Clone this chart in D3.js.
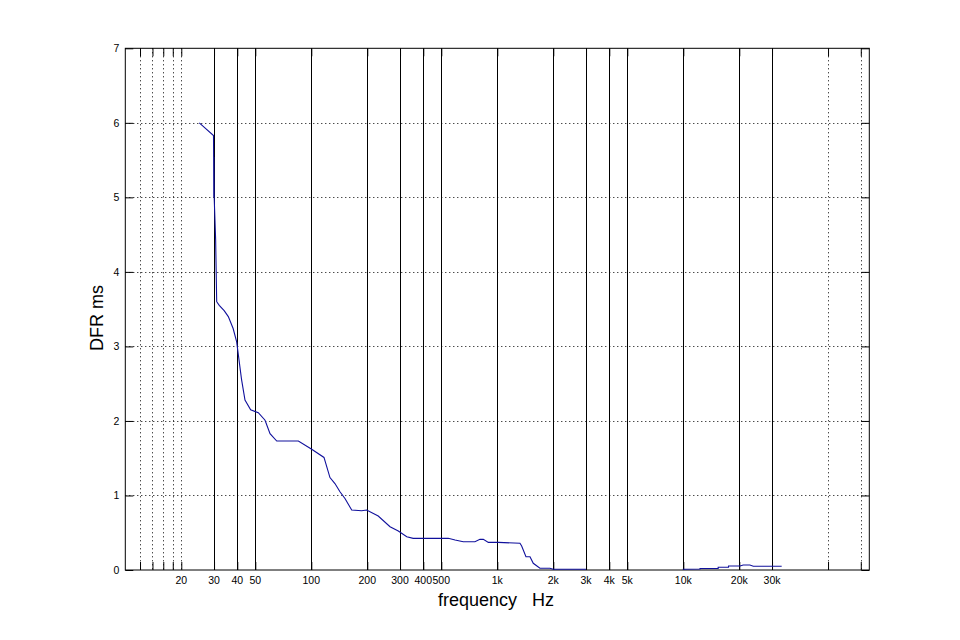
<!DOCTYPE html>
<html>
<head>
<meta charset="utf-8">
<script src="https://cdn.jsdelivr.net/npm/d3@7"></script>
<style>
  html, body { margin: 0; padding: 0; background: #fff; }
  svg { display: block; }
  text { font-family: "Liberation Sans", Arial, Helvetica, sans-serif; fill: #000; }
</style>
</head>
<body>
<svg id="chart" width="960" height="640"></svg>
<script>
// ---- data ----
const freqLow = [25, 29.8, 29.85, 29.9, 29.95, 30.05, 30.6, 31.0, 32.0, 34.0, 35.8, 38.0, 39.7, 42.2, 44.0, 47.2, 51.9, 56.4, 60.0, 65.2, 85.2, 100.5, 117, 126, 134, 142.6, 151.7, 164.9, 186.5, 198.4, 229, 265, 293.6, 326, 353, 434.5, 545, 593, 656, 758, 807, 841, 895, 1012, 1324, 1352, 1426, 1499, 1561, 1695, 1918, 2000, 3000];
const dfrLow  = [6.0, 5.83, 5.54, 5.0, 5.54, 5.0, 4.43, 3.6, 3.55, 3.48, 3.40, 3.24, 3.06, 2.55, 2.28, 2.15, 2.11, 2.01, 1.83, 1.73, 1.73, 1.62, 1.51, 1.24, 1.16, 1.05, 0.96, 0.805, 0.795, 0.805, 0.724, 0.581, 0.523, 0.447, 0.425, 0.425, 0.425, 0.402, 0.38, 0.38, 0.411, 0.411, 0.371, 0.371, 0.358, 0.322, 0.178, 0.178, 0.09, 0.023, 0.023, 0.01, 0.01];
const freqHigh = [9930, 12300, 12300, 15400, 15400, 17500, 17500, 20200, 21000, 22800, 23800, 33800];
const dfrHigh  = [0.01, 0.013, 0.02, 0.02, 0.036, 0.036, 0.054, 0.054, 0.067, 0.067, 0.05, 0.05];

const xTickValues = [20, 30, 40, 50, 100, 200, 300, 400, 500, 1000, 2000, 3000, 4000, 5000, 10000, 20000, 30000];
const xTickLabels = ["20", "30", "40", "50", "100", "200", "300", "400", "500", "1k", "2k", "3k", "4k", "5k", "10k", "20k", "30k"];
const dottedFreqs = [12, 14, 16, 18, 20, 60000, 90000];
const solidFreqs  = [30, 40, 50, 100, 200, 300, 400, 500, 1000, 2000, 3000, 4000, 5000, 10000, 20000, 30000];
const yTickValues = [0, 1, 2, 3, 4, 5, 6, 7];

const xLabel = "frequency\u00a0\u00a0\u00a0Hz";
const yLabel = "DFR ms";

// ---- layout ----
const pL = 125.3, pR = 869.3, pT = 48.3, pB = 570;
const svg = d3.select("#chart");

const x = d3.scaleLog().domain([10, 100000]).range([pL, pR]);
const y = d3.scaleLinear().domain([0, 7]).range([pB, pT]);

const g = svg.append("g");

// dotted horizontal grid
g.append("g").selectAll("line").data(yTickValues.filter(v => v > 0 && v < 7)).join("line")
  .attr("x1", pL).attr("x2", pR)
  .attr("y1", d => Math.round(y(d)) + 0.5).attr("y2", d => Math.round(y(d)) + 0.5)
  .attr("stroke", "#000").attr("stroke-width", 1).attr("stroke-dasharray", "1,3");

// dotted vertical grid
g.append("g").selectAll("line").data(dottedFreqs).join("line")
  .attr("x1", d => Math.round(x(d)) + 0.5).attr("x2", d => Math.round(x(d)) + 0.5)
  .attr("y1", pT).attr("y2", pB)
  .attr("stroke", "#000").attr("stroke-width", 1).attr("stroke-dasharray", "1,3");

// solid vertical lines
g.append("g").selectAll("line").data(solidFreqs).join("line")
  .attr("x1", d => Math.round(x(d)) + 0.5).attr("x2", d => Math.round(x(d)) + 0.5)
  .attr("y1", pT).attr("y2", pB)
  .attr("stroke", "#000").attr("stroke-width", 1);

// axes (inward ticks)
const xAxisB = d3.axisTop(x).tickValues(dottedFreqs.concat(solidFreqs)).tickSize(8).tickFormat("");
const xAxisT = d3.axisBottom(x).tickValues(dottedFreqs.concat(solidFreqs)).tickSize(8).tickFormat("");
const yAxisL = d3.axisRight(y).tickValues(yTickValues).tickSize(8).tickFormat("");
const yAxisR = d3.axisLeft(y).tickValues(yTickValues).tickSize(8).tickFormat("");

[ [xAxisB, `translate(0,${pB})`], [xAxisT, `translate(0,${pT})`],
  [yAxisL, `translate(${pL},0)`], [yAxisR, `translate(${pR},0)`] ].forEach(([ax, tr]) => {
  const a = g.append("g").attr("transform", tr).call(ax);
  a.select(".domain").remove();
  a.selectAll("line").attr("stroke", "#000");
});

// frame
g.append("rect").attr("x", pL).attr("y", pT).attr("width", pR - pL).attr("height", pB - pT)
  .attr("fill", "none").attr("stroke", "#000").attr("stroke-width", 1);

// tick labels
g.append("g").selectAll("text").data(xTickValues).join("text")
  .attr("x", d => x(d)).attr("y", pB + 14)
  .attr("text-anchor", "middle").attr("font-size", "10.5px")
  .text((d, i) => xTickLabels[i]);

g.append("g").selectAll("text").data(yTickValues).join("text")
  .attr("x", pL - 6).attr("y", d => y(d) + 4)
  .attr("text-anchor", "end").attr("font-size", "10.5px")
  .text(d => d);

// axis labels
svg.append("text").attr("x", 496).attr("y", 606).attr("text-anchor", "middle")
  .attr("font-size", "18px").text(xLabel);
svg.append("text").attr("transform", "translate(103,318) rotate(-90)").attr("text-anchor", "middle")
  .attr("font-size", "18px").text(yLabel);

// curve
const line = d3.line().x(d => x(d[0])).y(d => y(d[1]));
const segs = [d3.zip(freqLow, dfrLow), d3.zip(freqHigh, dfrHigh)];
g.append("g").selectAll("path").data(segs).join("path")
  .attr("d", line).attr("fill", "none").attr("stroke", "#10109c").attr("stroke-width", 1.1);
</script>
</body>
</html>
